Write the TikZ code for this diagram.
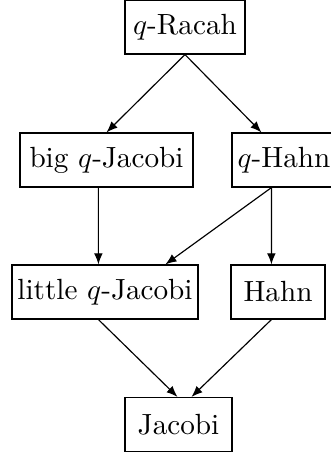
\documentclass[tikz,border=0pt]{standalone}
\usetikzlibrary{calc,arrows.meta}
\begin{document}
\begin{tikzpicture}[x=0.3425pt,y=-0.3425pt,
  box/.style={draw,inner sep=0pt,minimum height=18.5pt,line width=0.4pt},
  arr/.style={-{Latex[length=3.8pt,width=3pt]},line width=0.4pt}]
\useasboundingbox (0,0) rectangle (330,455);
\node[box,minimum width=41.1pt] (r) at (185,27) {$q$-Racah};
\node[box,minimum width=59.3pt] (bqj) at (106.5,160) {big $q$-Jacobi};
\node[box,minimum width=35.6pt] (qh) at (284,160) {$q$-Hahn};
\node[box,minimum width=63.7pt] (lqj) at (105,292) {little $q$-Jacobi};
\node[box,minimum width=32.2pt] (h) at (278,292) {Hahn};
\node[box,minimum width=36.6pt] (j) at (178.5,424.5) {Jacobi};
\draw[arr] (r.south) -- (bqj.north);
\draw[arr] (r.south) -- ($(qh.north west)+(30,0)$);
\draw[arr] ($(bqj.south west)+(79,0)$) -- ($(lqj.north west)+(87,0)$);
\draw[arr] ($(qh.south west)+(40,0)$) -- ($(lqj.north west)+(154,0)$);
\draw[arr] ($(qh.south west)+(40,0)$) -- ($(h.north west)+(41,0)$);
\draw[arr] ($(lqj.south west)+(87,0)$) -- ($(j.north west)+(53,0)$);
\draw[arr] ($(h.south west)+(41,0)$) -- ($(j.north west)+(67,0)$);
\end{tikzpicture}
\end{document}
